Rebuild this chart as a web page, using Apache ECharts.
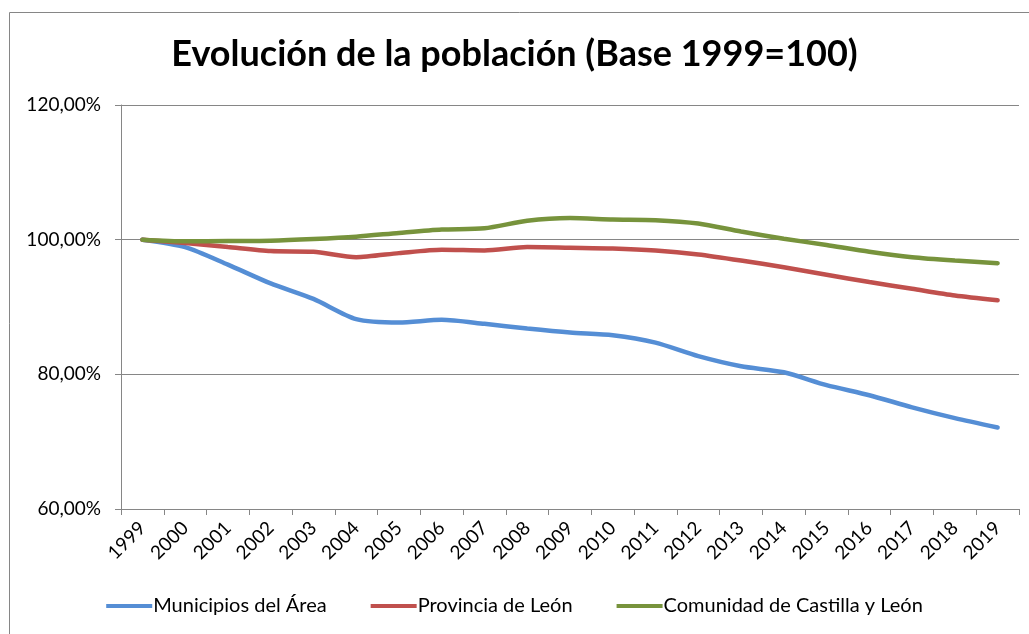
<!DOCTYPE html>
<html>
<head>
<meta charset="utf-8">
<script src="https://cdn.jsdelivr.net/npm/echarts@6/dist/echarts.min.js"></script>
<style>
  html, body { margin: 0; padding: 0; background: #fff; }
  #chart { width: 1029px; height: 634px; }
</style>
</head>
<body>
<div id="chart"></div>
<script>
const years = ['1999', '2000', '2001', '2002', '2003', '2004', '2005', '2006', '2007', '2008', '2009',
  '2010', '2011', '2012', '2013', '2014', '2015', '2016', '2017', '2018', '2019'];

// valores en % (base 1999 = 100)
const municipios = [100, 98.9, 96.3, 93.5, 91.2, 88.2, 87.7, 88.1, 87.5, 86.8, 86.2,
  85.8, 84.7, 82.7, 81.2, 80.3, 78.4, 76.9, 75.1, 73.5, 72.1];
const provincia = [100, 99.5, 98.9, 98.3, 98.2, 97.4, 98.0, 98.5, 98.4, 98.9, 98.8,
  98.7, 98.4, 97.8, 96.9, 95.9, 94.8, 93.7, 92.7, 91.7, 91.0];
const comunidad = [100, 99.75, 99.8, 99.85, 100.1, 100.45, 101.0, 101.5, 101.7, 102.8, 103.2,
  103.0, 102.9, 102.4, 101.2, 100.15, 99.2, 98.2, 97.4, 96.9, 96.5];

const names = ['Municipios del Área', 'Provincia de León', 'Comunidad de Castilla y León'];
const colors = ['#558ed5', '#c0504d', '#77933c'];

const font = 'Lato, "Open Sans", sans-serif';

const chart = echarts.init(document.getElementById('chart'));

const mkSeries = (name, data, color) => ({
  name,
  type: 'line',
  data,
  smooth: 0.25,
  symbol: 'none',
  lineStyle: { width: 4.5, color, cap: 'round' },
  itemStyle: { color }
});

chart.setOption({
  animation: false,
  color: colors,
  textStyle: { fontFamily: font },
  title: {
    text: 'Evolución de la población (Base 1999=100)',
    left: 'center',
    top: 31,
    textStyle: { fontSize: 36, fontWeight: 'bold', color: '#000', fontFamily: font }
  },
  graphic: [{
    type: 'rect',
    shape: { x: 9.5, y: 12.5, width: 1100, height: 700 },
    style: { fill: 'none', stroke: '#868686', lineWidth: 1 },
    silent: true
  }],
  grid: { left: 121, right: 10, top: 105, bottom: 125 },
  legend: {
    bottom: 13,
    left: 'center',
    icon: 'rect',
    itemWidth: 46,
    itemHeight: 4,
    itemGap: 44,
    textStyle: { fontSize: 20, color: '#000', fontFamily: font, padding: [0, 0, 0, -4] },
    data: names
  },
  xAxis: {
    type: 'category',
    data: years,
    boundaryGap: true,
    axisLine: { lineStyle: { color: '#868686', width: 1 } },
    axisTick: { show: true, interval: 0, length: 6, lineStyle: { color: '#868686' } },
    axisLabel: { interval: 0, rotate: 45, fontSize: 19, color: '#000', margin: 16, fontFamily: font }
  },
  yAxis: {
    type: 'value',
    min: 60,
    max: 120,
    interval: 20,
    axisLine: { show: true, lineStyle: { color: '#868686', width: 1 } },
    axisTick: { show: true, length: 6, lineStyle: { color: '#868686' } },
    splitLine: { show: true, lineStyle: { color: '#868686', width: 1 } },
    axisLabel: {
      fontSize: 19,
      color: '#000',
      margin: 20,
      fontFamily: font,
      formatter: v => v.toFixed(2).replace('.', ',') + '%'
    }
  },
  series: [
    mkSeries(names[0], municipios, colors[0]),
    mkSeries(names[1], provincia, colors[1]),
    mkSeries(names[2], comunidad, colors[2])
  ]
});
</script>
</body>
</html>
